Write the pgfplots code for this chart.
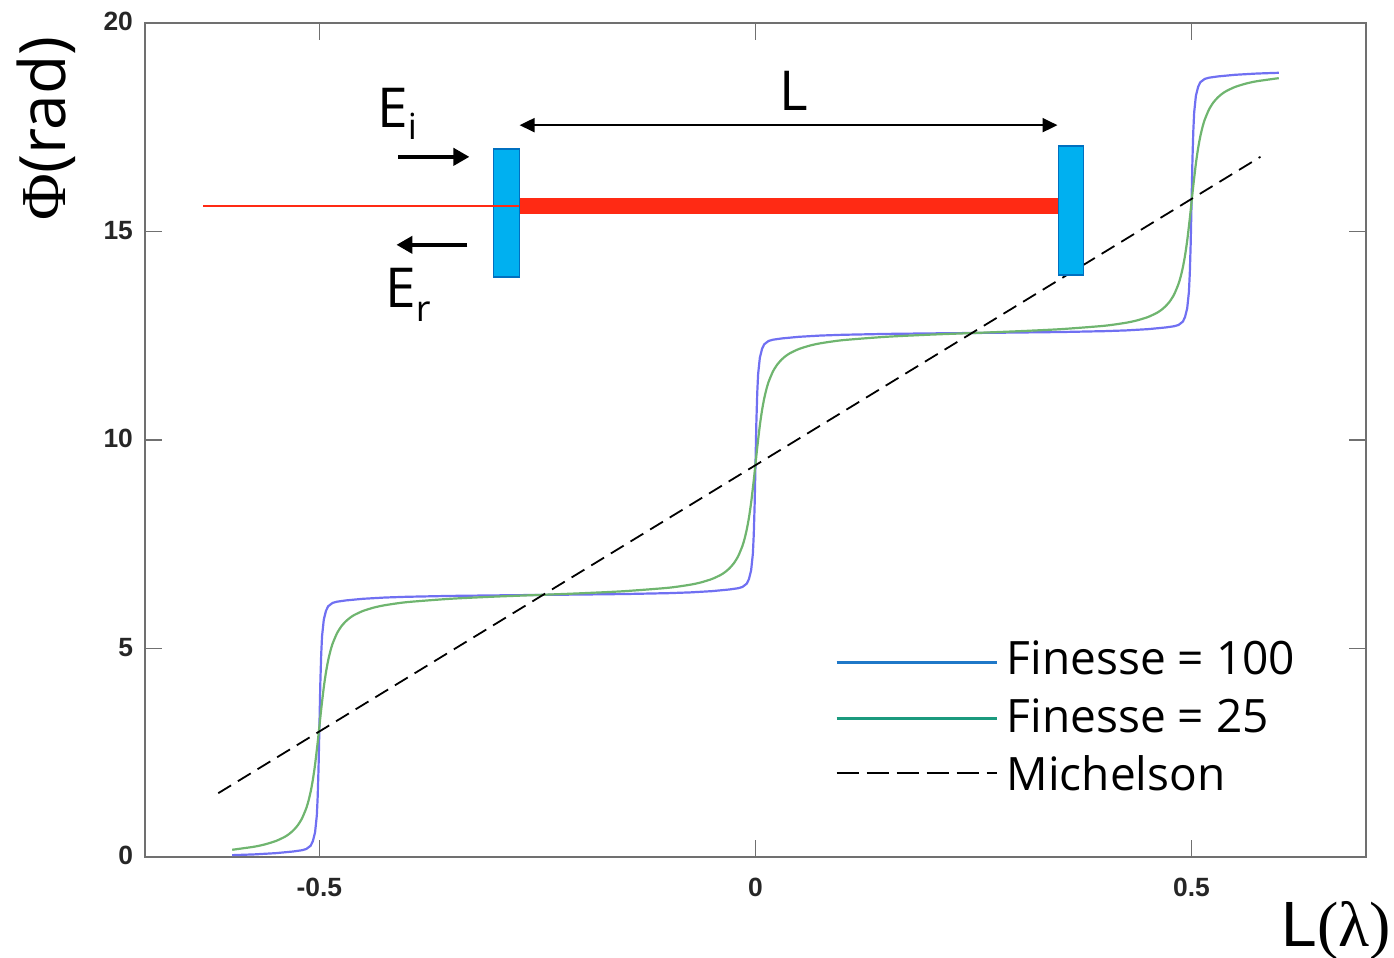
\documentclass[border=0pt]{standalone}
\usepackage{fontspec}
\usepackage{pgfplots}
\pgfplotsset{compat=1.18}
\usetikzlibrary{arrows.meta}
\setmainfont{Open Sans}
\newfontfamily\ser{Liberation Serif}
\newfontfamily\hel{Liberation Sans}
\definecolor{cblue}{HTML}{7070F2}
\definecolor{cgreen}{HTML}{6FB56F}
\definecolor{lblue}{HTML}{1F78C8}
\definecolor{lgreen}{HTML}{1B9A7E}
\definecolor{cred}{HTML}{FF2A14}
\definecolor{mfill}{HTML}{00B0F0}
\definecolor{medge}{HTML}{0070C0}
\definecolor{frame}{HTML}{707070}
\begin{document}
\begin{tikzpicture}
\useasboundingbox (0,0) rectangle (697pt,479pt);
\begin{axis}[
  at={(72.5pt,50.5pt)}, anchor=south west,
  scale only axis, width=610.5pt, height=417pt,
  xmin=-0.7, xmax=0.7, ymin=0, ymax=20,
  clip=false,
  axis line style={frame, line width=1pt},
  xtick={-0.5,0,0.5}, xticklabels={-0.5,0,0.5},
  ytick={0,5,10,15,20},
  tick style={frame, line width=0.8pt},
  tick align=inside, major tick length=8.5pt,
  tick label style={font=\hel\bfseries\fontsize{13.2}{15}\selectfont, text=black!85},
  xticklabel style={yshift=-7pt},
  yticklabel style={xshift=-2.5pt, yshift=0.7pt},
  /pgf/number format/assume math mode=true,
  legend cell align=left,
  legend style={at={(axis cs:0.0916,5.38)}, anchor=north west, draw=none, fill=none,
    font=\fontsize{23}{27}\selectfont, inner sep=0pt, outer sep=0pt,
    row sep=0pt, column sep=4.5pt,
    nodes={inner sep=0pt, text height=21pt, text depth=8pt}},
  legend image code/.code={\draw[#1] (0.5pt,7pt) -- (80.5pt,7pt);},
]
\addlegendimage{lblue, line width=1.2pt, yshift=-7.5pt}
\addlegendentry{Finesse = 100}
\addlegendimage{lgreen, line width=1.2pt, yshift=-6.5pt}
\addlegendentry{Finesse = 25}
\addlegendimage{black, line width=1pt, dash pattern=on 11pt off 4pt, yshift=-4.5pt}
\addlegendentry{Michelson}

% Finesse = 100
\addplot[forget plot, cblue, line width=1.1pt, line join=round] coordinates {
(-.6,.044)(-.575,.062)(-.55,.092)(-.54,.112)(-.53,.132)(-.52,.162)(-.515,.192)(-.51,.272)(-.5075,.382)(-.505,.592)(-.503,.992)(-.502,1.442)(-.501,2.142)(-.5,3.142)
(-.499,4.142)(-.498,4.842)(-.497,5.292)(-.495,5.692)(-.4925,5.902)(-.49,6.012)(-.485,6.092)(-.48,6.122)(-.47,6.152)(-.46,6.172)(-.45,6.192)(-.425,6.222)(-.4,6.240)(-.35,6.261)(-.3,6.273)(-.25,6.284)
(-.2,6.294)(-.15,6.306)(-.1,6.327)(-.075,6.345)(-.05,6.375)(-.04,6.395)(-.03,6.415)(-.02,6.445)(-.015,6.475)(-.01,6.555)(-.0075,6.665)(-.005,6.875)(-.003,7.275)(-.002,7.725)(-.001,8.425)(0,9.425)
(.001,10.425)(.002,11.125)(.003,11.575)(.005,11.975)(.0075,12.185)(.01,12.295)(.015,12.375)(.02,12.405)(.03,12.435)(.04,12.455)(.05,12.475)(.075,12.505)(.1,12.523)(.15,12.544)(.2,12.556)(.25,12.566)
(.3,12.577)(.35,12.589)(.4,12.610)(.425,12.628)(.45,12.658)(.46,12.678)(.47,12.698)(.48,12.728)(.485,12.758)(.49,12.838)(.4925,12.948)(.495,13.158)(.497,13.558)(.498,14.008)(.499,14.708)(.5,15.708)
(.501,16.708)(.502,17.408)(.503,17.858)(.505,18.258)(.5075,18.468)(.51,18.578)(.515,18.658)(.52,18.688)(.53,18.718)(.54,18.738)(.55,18.758)(.575,18.788)(.6,18.806)
};
% Finesse = 25
\addplot[forget plot, cgreen, line width=1.1pt, line join=round, smooth, tension=0.4] coordinates {
(-.6,.173)(-.575,.246)(-.5625,.302)(-.55,.383)(-.54,.480)(-.535,.548)(-.53,.637)(-.525,.756)(-.52,.924)(-.515,1.174)(-.5125,1.350)(-.51,1.571)(-.5075,1.855)(-.505,2.215)(-.502,2.748)(-.5,3.142)
(-.498,3.536)(-.495,4.069)(-.4925,4.429)(-.49,4.713)(-.4875,4.934)(-.485,5.110)(-.48,5.360)(-.475,5.528)(-.47,5.647)(-.465,5.736)(-.46,5.804)(-.45,5.901)(-.4375,5.982)(-.425,6.038)(-.4,6.111)(-.35,6.192)(-.3,6.243)(-.25,6.283)
(-.2,6.324)(-.15,6.375)(-.1,6.456)(-.075,6.529)(-.0625,6.585)(-.05,6.666)(-.04,6.763)(-.035,6.831)(-.03,6.920)(-.025,7.039)(-.02,7.207)(-.015,7.457)(-.0125,7.633)(-.01,7.854)(-.0075,8.138)(-.005,8.498)(-.002,9.031)(0,9.425)
(.002,9.819)(.005,10.352)(.0075,10.712)(.01,10.996)(.0125,11.217)(.015,11.393)(.02,11.643)(.025,11.811)(.03,11.930)(.035,12.019)(.04,12.087)(.05,12.184)(.0625,12.265)(.075,12.321)(.1,12.394)(.15,12.475)(.2,12.526)(.25,12.566)
(.3,12.607)(.35,12.658)(.4,12.739)(.425,12.812)(.4375,12.868)(.45,12.949)(.46,13.046)(.465,13.114)(.47,13.203)(.475,13.322)(.48,13.490)(.485,13.740)(.4875,13.916)(.49,14.137)(.4925,14.421)(.495,14.781)(.498,15.314)(.5,15.708)
(.502,16.102)(.505,16.635)(.5075,16.995)(.51,17.279)(.5125,17.500)(.515,17.676)(.52,17.926)(.525,18.094)(.53,18.213)(.535,18.302)(.54,18.370)(.55,18.467)(.5625,18.548)(.575,18.604)(.6,18.677)
};
% Michelson
\addplot[forget plot, black, line width=0.9pt, dash pattern=on 7.5pt off 4pt] coordinates {(-.616,1.53)(.579,16.79)};

% Cavity schematic
\addplot[forget plot, cred, line width=1.2pt] coordinates {(-.633,15.61)(-.2706,15.61)};
\addplot[forget plot, cred, line width=8pt] coordinates {(-.2706,15.61)(.3475,15.61)};
\addplot[forget plot, draw=medge, fill=mfill, line width=0.9pt] coordinates {(-.3005,16.98)(-.2706,16.98)(-.2706,13.91)(-.3005,13.91)} -- cycle;
\addplot[forget plot, draw=medge, fill=mfill, line width=0.9pt] coordinates {(.3475,17.05)(.376,17.05)(.376,13.96)(.3475,13.96)} -- cycle;
\addplot[forget plot, cred, line width=1.2pt] coordinates {(-.3005,15.61)(-.2706,15.61)};
\addplot[forget plot, black, line width=1pt, {Triangle[length=7.5pt,width=7pt]}-{Triangle[length=7.5pt,width=7pt]}] coordinates {(-.2705,17.55)(.3463,17.55)};
\addplot[forget plot, black, line width=2.3pt, -{Triangle[length=8pt,width=8.5pt]}] coordinates {(-.4094,16.79)(-.328,16.79)};
\addplot[forget plot, black, line width=2.3pt, -{Triangle[length=8pt,width=8.5pt]}] coordinates {(-.3303,14.68)(-.4117,14.68)};
\end{axis}
\begin{scope}[x=.5pt,y=-.5pt,shift={(0,479pt)}]
\node[anchor=base west,inner sep=0] at (377,128) {\fontsize{27.5}{30}\selectfont E\raisebox{-6pt}{\fontsize{18}{20}\selectfont i}};
\node[anchor=base west,inner sep=0] at (385,308) {\fontsize{27.5}{30}\selectfont E\raisebox{-7pt}{\fontsize{18}{20}\selectfont r}};
\node[anchor=base,inner sep=0] at (794,111) {\fontsize{27.5}{30}\selectfont L};
\node[anchor=base west,inner sep=0,rotate=90] at (65,221) {\fontsize{32}{35}\selectfont{\ser Φ}(rad)};
\node[anchor=base west,inner sep=0] at (1281,947) {\fontsize{32}{35}\selectfont{\hel L}{\ser (λ)}};
\end{scope}
\end{tikzpicture}
\end{document}
